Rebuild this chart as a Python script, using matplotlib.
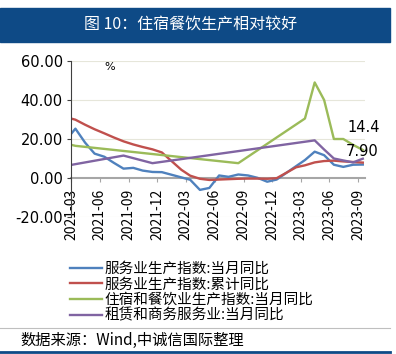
import numpy as np
import pandas as pd
import matplotlib
matplotlib.use("Agg")
import matplotlib.pyplot as plt
from matplotlib.patches import Rectangle
from matplotlib.lines import Line2D

plt.rcParams['font.family'] = ['Noto Sans CJK SC', 'DejaVu Sans']

nan = np.nan
# meses 2020-12 .. 2023-09
meses = pd.period_range('2020-12', '2023-09', freq='M').astype(str)

servicios_mes = [7.7, nan, nan, 25.3, 18.1, 12.5, 10.9, 7.8, 4.8, 5.2, 3.8, 3.1, 3.0,
                 nan, nan, -0.9, -6.1, -5.1, 1.3, 0.6, 1.8, 1.3, 0.1, -1.9, -0.8,
                 nan, nan, 9.2, 13.5, 11.7, 6.8, 5.7, 6.8, 6.9]
servicios_acum = [nan, nan, 31.1, 29.9, 27.3, 25.0, 22.9, 20.8, 18.8, 17.2, 15.9, 14.7, 13.1,
                  nan, 4.2, 1.2, -0.4, -1.0, -0.8, -0.6, -0.4, -0.3, -0.3, -0.4, -0.1,
                  nan, 5.5, 6.5, 8.0, 8.7, 8.9, 8.5, 8.2, 7.9]
hosteleria = [20.0, nan, nan, 16.5, nan, nan, nan, nan, nan, nan, nan, nan, nan,
              nan, nan, nan, nan, nan, nan, nan, 7.6, nan, nan, nan, nan,
              nan, nan, 30.5, 49.0, 40.0, 20.0, 20.0, 17.0, 14.4]
alquiler = [4.5, nan, nan, 7.1, nan, nan, nan, nan, 11.5, nan, nan, 7.6, nan,
            nan, nan, nan, nan, nan, nan, nan, nan, nan, nan, nan, nan,
            nan, nan, nan, 19.3, 14.6, 10.0, 9.0, 8.0, 9.9]

series = [
    ("服务业生产指数:当月同比", servicios_mes, '#4F81BD'),
    ("服务业生产指数:累计同比", servicios_acum, '#C0504D'),
    ("住宿和餐饮业生产指数:当月同比", hosteleria, '#9BBB59'),
    ("租赁和商务服务业:当月同比", alquiler, '#8064A2'),
]

fechas = pd.to_datetime([m + '-15' for m in meses])
ticks = pd.date_range('2021-03-01', '2023-09-01', freq='3MS')

fig = plt.figure(figsize=(3.96, 3.54), dpi=100)

# barra de titulo
fig.patches.append(Rectangle((0, 1 - 42 / 354), 390 / 396, 34 / 354,
                             transform=fig.transFigure, color='#0E4A86'))
fig.text(191 / 396, 1 - 25 / 354, '图 10：住宿餐饮生产相对较好', color='white',
         ha='center', va='center', fontsize=11.5)

ax = fig.add_axes([71 / 396, 1 - 217 / 354, (365 - 71) / 396, (217 - 61) / 354])

handles = []
for nombre, valores, color in series:
    s = pd.Series(valores, index=fechas).dropna()
    ax.plot(s.index, s.values, color=color, lw=1.7, clip_on=True)
    handles.append(Line2D([], [], color=color, lw=1.7))

ax.set_ylim(-20, 60)
ax.set_yticks([-20, 0, 20, 40, 60])
ax.set_yticklabels([f"{v:.2f}" for v in [-20, 0, 20, 40, 60]], fontsize=10.5,
                   family='DejaVu Sans')
ax.set_xlim(pd.Timestamp('2021-03-01'), pd.Timestamp('2023-09-22'))
ax.set_xticks(ticks)
ax.set_xticklabels([t.strftime('%Y-%m') for t in ticks], fontsize=10,
                   family='DejaVu Sans')
ax.tick_params(axis='x', labelrotation=90)

for v in [-20, 20, 40, 60]:
    ax.axhline(v, color='#E6E6DA', lw=0.8, zorder=0)

for lado in ['top', 'right']:
    ax.spines[lado].set_visible(False)
ax.spines['bottom'].set_position(('data', 0))
ax.spines['bottom'].set_color('#A6A6A6')
ax.spines['bottom'].set_linewidth(1.5)
ax.spines['bottom'].set_zorder(1)
ax.spines['left'].set_color('#404040')
ax.tick_params(axis='x', colors='#A6A6A6', length=3, labelcolor='black', pad=5)
ax.tick_params(axis='y', length=3, color='#404040', pad=3)

ax.text(0.133, 0.96, '%', transform=ax.transAxes, fontsize=8, ha='center', va='center',
        family='DejaVu Sans')

# etiquetas finales
ax.annotate(f"{hosteleria[-1]:.1f}", xy=(fechas[-1], hosteleria[-1]), xytext=(-11, 16),
            textcoords='offset points', fontsize=10.5, va='center', family='DejaVu Sans')
ax.annotate(f"{servicios_acum[-1]:.2f}", xy=(fechas[-1], servicios_acum[-1]), xytext=(-12, 8),
            textcoords='offset points', fontsize=10.5, va='center', family='DejaVu Sans')

fig.legend(handles, [s[0] for s in series], loc='upper left',
           bbox_to_anchor=(70 / 396, 1 - 262 / 354), frameon=False, fontsize=10.5,
           handlelength=2.2, handletextpad=0.15, labelspacing=0.1,
           borderpad=0, borderaxespad=0)

# pie
fig.add_artist(Line2D([0, 390 / 396], [1 - 328 / 354] * 2, transform=fig.transFigure,
                      color='#BFBFBF', lw=0.8))
fig.text(20 / 396, 1 - 340 / 354, '数据来源：Wind,中诚信国际整理', fontsize=11,
         va='center', ha='left')
fig.add_artist(Line2D([0, 390 / 396], [1 - 352 / 354] * 2, transform=fig.transFigure,
                      color='#0E4A86', lw=2))

fig.savefig('out.png', dpi=100)
